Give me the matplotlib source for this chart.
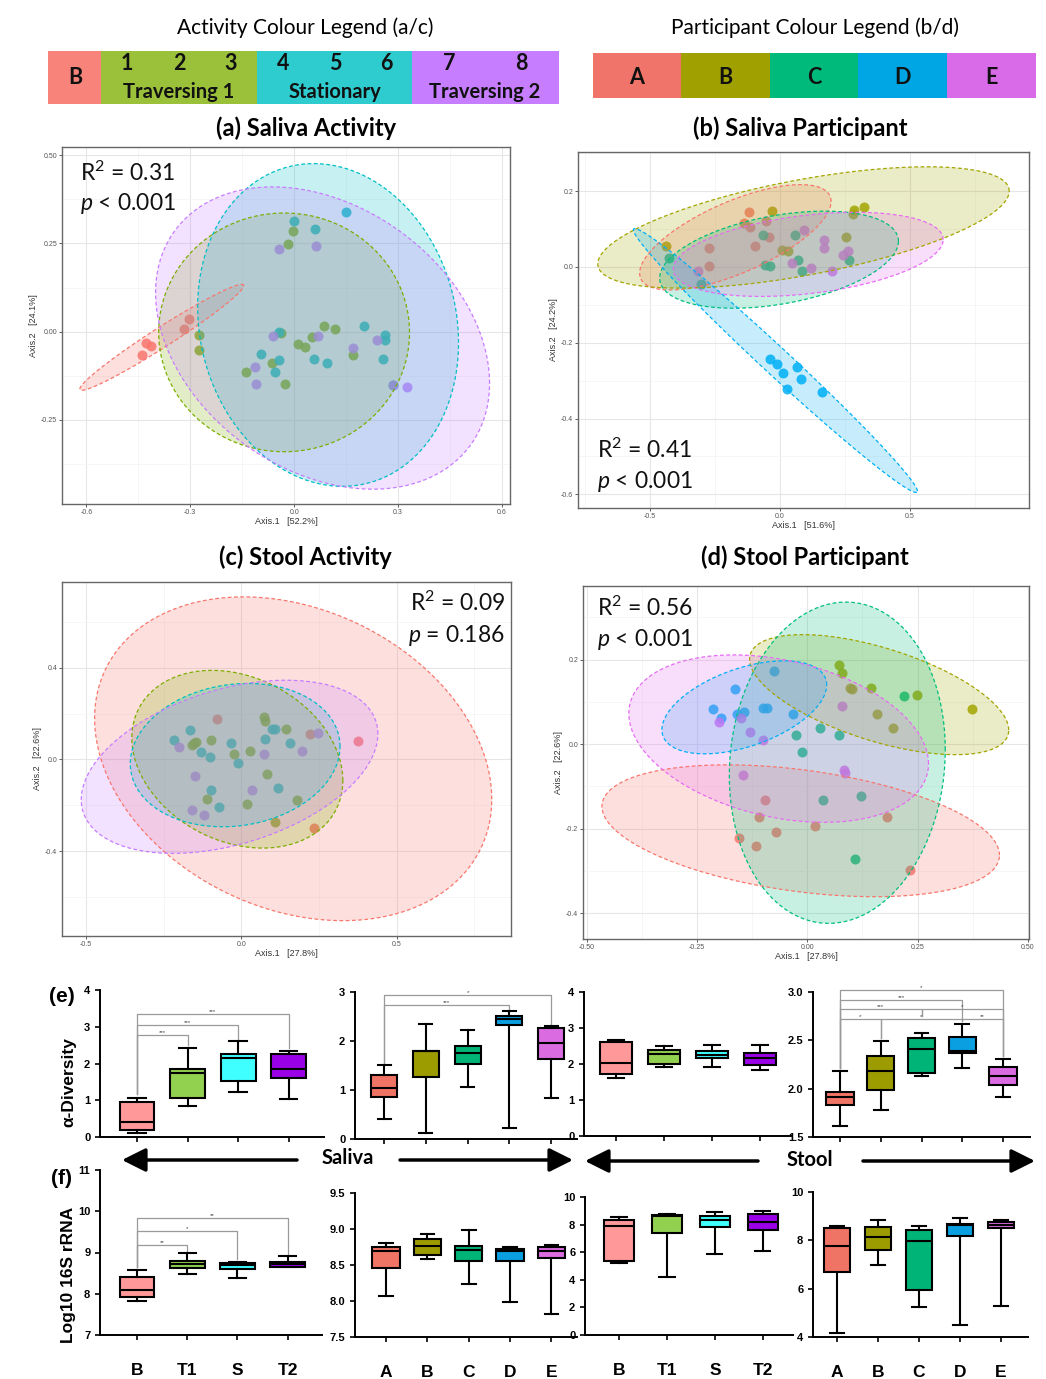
import numpy as np
import matplotlib
matplotlib.use("Agg")
import matplotlib.pyplot as plt
from matplotlib.patches import Rectangle
from matplotlib.ticker import MultipleLocator, FormatStrFormatter

plt.rcParams['font.family'] = ['Liberation Sans', 'DejaVu Sans']
plt.rcParams['mathtext.fontset'] = 'custom'
plt.rcParams['mathtext.rm'] = 'Lato'
plt.rcParams['mathtext.it'] = 'Lato:italic'
plt.rcParams['mathtext.bf'] = 'Lato:bold'

# ---------------- data ----------------
act_labels = ['B', 'T1', 'S', 'T2']
part_labels = ['A', 'B', 'C', 'D', 'E']
act_colors = ['#F8766D', '#7CAE00', '#00BFC4', '#C77CFF']
part_colors = ['#F8766D', '#A3A500', '#00BF7D', '#00B0F6', '#E76BF3']
act_legend_colors = ['#F8837A', '#9BC03A', '#2FCCCF', '#C77DFF']
part_legend_colors = ['#F0746A', '#A0A000', '#00BA7C', '#00A6E4', '#D96BE8']
act_box_colors = ['#FF9999', '#92D050', '#40FFFF', '#9900E6']
part_box_colors = ['#F07466', '#9C9C00', '#00B377', '#0A9FE0', '#DA6BE0']

# (a) saliva activity PCoA
a_x_B = [-0.439, -0.427, -0.413, -0.319, -0.304]
a_y_B = [-0.066, -0.031, -0.040, 0.007, 0.036]
a_x_T1 = [-0.276, -0.276, -0.138, -0.064, -0.027, -0.039, 0.010, 0.031, 0.052, 0.085, 0.117, 0.171, -0.018, -0.003]
a_y_T1 = [-0.009, -0.052, -0.114, -0.088, -0.149, -0.005, -0.035, -0.042, -0.016, 0.016, 0.009, -0.065, 0.247, 0.285]
a_x_S = [0.000, 0.060, 0.149, -0.045, -0.096, -0.045, -0.054, 0.057, 0.095, 0.203, 0.262, 0.262, 0.257, 0.286]
a_y_S = [0.314, 0.290, 0.340, -0.002, -0.062, -0.081, -0.114, -0.077, -0.090, 0.016, -0.008, -0.024, -0.077, -0.151]
a_x_T2 = [-0.043, 0.062, -0.062, 0.069, -0.114, -0.111, 0.171, 0.238, 0.325, 0.286]
a_y_T2 = [0.234, 0.242, -0.012, -0.012, -0.099, -0.149, -0.046, -0.024, -0.157, -0.151]
# ellipses: centre x, centre y, half extent x, half extent y, correlation
a_ellipses = [(-0.382, -0.016, 0.2365, 0.150, 0.975),
              (-0.029, -0.002, 0.362, 0.338, 0.0),
              (0.098, 0.019, 0.3765, 0.457, -0.11),
              (0.082, -0.018, 0.482, 0.428, -0.30)]

# (b) saliva participant PCoA
b_x_A = [-0.118, -0.138, -0.115, -0.055, -0.042, -0.096, -0.274, -0.274]
b_y_A = [0.146, 0.115, 0.104, 0.120, 0.080, 0.056, 0.049, 0.003]
b_x_B = [-0.029, -0.438, 0.010, 0.032, 0.256, 0.285, 0.282, 0.323]
b_y_B = [0.148, 0.054, 0.045, 0.043, 0.078, 0.149, 0.140, 0.159]
b_x_C = [-0.064, 0.058, -0.426, -0.303, -0.056, -0.038, 0.071, 0.086, 0.267]
b_y_C = [0.085, 0.085, 0.023, -0.046, 0.004, 0.003, 0.017, -0.010, 0.017]
b_x_D = [-0.036, -0.009, 0.013, 0.067, 0.083, 0.026, 0.164]
b_y_D = [-0.243, -0.256, -0.281, -0.263, -0.296, -0.323, -0.331]
b_x_E = [0.094, 0.169, 0.169, 0.263, 0.241, 0.046, 0.118, 0.200, -0.315]
b_y_E = [0.096, 0.070, 0.051, 0.042, 0.032, 0.011, -0.003, -0.011, -0.011]
b_ellipses = [(-0.171, 0.078, 0.368, 0.139, 0.68),
              (0.091, 0.104, 0.791, 0.160, 0.60),
              (-0.003, 0.019, 0.459, 0.128, 0.38),
              (-0.017, -0.247, 0.546, 0.348, -0.99),
              (0.109, 0.033, 0.519, 0.111, 0.35)]

# (c) stool activity PCoA
c_x_B = [-0.077, 0.220, 0.376, 0.233]
c_y_B = [0.175, 0.113, 0.081, -0.298]
c_x_T1 = [-0.153, -0.159, -0.145, -0.099, -0.025, 0.027, 0.072, 0.077, 0.143, 0.084, -0.110, 0.017, 0.178, 0.108]
c_y_T1 = [0.071, 0.062, 0.077, 0.086, 0.022, 0.039, 0.186, 0.167, 0.132, -0.064, -0.172, -0.193, -0.175, -0.272]
c_x_S = [-0.216, -0.166, -0.131, -0.102, -0.033, -0.012, 0.076, 0.100, 0.108, 0.156, -0.097, -0.073, 0.119]
c_y_S = [0.083, 0.129, 0.031, 0.009, 0.071, -0.017, 0.090, 0.132, 0.132, 0.071, -0.134, -0.209, -0.124]
c_x_T2 = [-0.200, -0.148, 0.195, 0.248, 0.072, 0.033, -0.158, -0.119]
c_y_T2 = [0.055, -0.073, 0.038, 0.116, 0.023, -0.134, -0.221, -0.243]
c_ellipses = [(0.167, 0.003, 0.640, 0.707, -0.25),
              (-0.013, 0.001, 0.340, 0.388, -0.24),
              (-0.020, 0.019, 0.338, 0.313, 0.12),
              (-0.038, -0.032, 0.478, 0.378, 0.38)]

# (d) stool participant PCoA
d_x_A = [-0.096, -0.109, -0.156, -0.117, -0.072, 0.018, 0.180, 0.232]
d_y_A = [-0.132, -0.172, -0.221, -0.240, -0.209, -0.194, -0.173, -0.298]
d_x_B = [0.072, 0.078, 0.097, 0.102, 0.144, 0.157, 0.195, 0.249, 0.374]
d_y_B = [0.187, 0.168, 0.132, 0.131, 0.133, 0.071, 0.038, 0.117, 0.082]
d_x_C = [0.220, -0.026, 0.029, 0.072, -0.011, 0.035, 0.121, 0.108]
d_y_C = [0.114, 0.022, 0.039, 0.022, -0.019, -0.133, -0.123, -0.271]
d_x_D = [-0.076, -0.165, -0.214, -0.195, -0.160, -0.143, -0.100, -0.092, -0.032]
d_y_D = [0.173, 0.130, 0.083, 0.062, 0.071, 0.076, 0.086, 0.086, 0.071]
d_x_E = [-0.200, -0.151, -0.130, -0.100, 0.078, -0.146, 0.084, 0.085]
d_y_E = [0.052, 0.061, 0.029, 0.009, 0.091, -0.072, -0.061, -0.068]
d_ellipses = [(-0.015, -0.205, 0.451, 0.156, -0.37),
              (0.163, 0.117, 0.294, 0.142, -0.59),
              (0.068, -0.044, 0.245, 0.380, 0.08),
              (-0.143, 0.087, 0.187, 0.110, 0.48),
              (-0.065, 0.013, 0.340, 0.198, -0.30)]

# box plots: (whisker low, Q1, median, Q3, whisker high)
e1_stats = [(0.12, 0.18, 0.41, 0.94, 1.07), (0.84, 1.06, 1.75, 1.86, 2.43),
            (1.23, 1.53, 2.15, 2.26, 2.61), (1.03, 1.60, 1.85, 2.26, 2.35)]
e2_stats = [(0.40, 0.86, 1.04, 1.31, 1.51), (0.12, 1.27, 1.79, 1.80, 2.35),
            (1.07, 1.53, 1.75, 1.89, 2.22), (0.22, 2.33, 2.45, 2.52, 2.62),
            (0.83, 1.64, 1.96, 2.26, 2.31)]
e3_stats = [(1.62, 1.71, 2.03, 2.61, 2.68), (1.92, 2.00, 2.27, 2.39, 2.49),
            (1.93, 2.18, 2.24, 2.36, 2.54), (1.82, 1.96, 2.17, 2.30, 2.54)]
e4_stats = [(1.61, 1.83, 1.91, 1.97, 2.18), (1.78, 1.99, 2.18, 2.34, 2.49),
            (2.13, 2.16, 2.41, 2.52, 2.58), (2.21, 2.37, 2.39, 2.53, 2.67),
            (1.91, 2.04, 2.13, 2.22, 2.31)]
f1_stats = [(7.82, 7.93, 8.09, 8.40, 8.58), (8.48, 8.62, 8.72, 8.79, 8.98),
            (8.37, 8.61, 8.70, 8.74, 8.78), (8.64, 8.66, 8.71, 8.76, 8.92)]
f2_stats = [(8.07, 8.46, 8.69, 8.75, 8.81), (8.58, 8.64, 8.77, 8.86, 8.93),
            (8.24, 8.55, 8.71, 8.77, 8.99), (7.99, 8.55, 8.69, 8.72, 8.75),
            (7.82, 8.60, 8.69, 8.75, 8.78)]
f3_stats = [(5.25, 5.35, 7.88, 8.36, 8.55), (4.17, 7.40, 8.60, 8.67, 8.80),
            (5.90, 7.83, 8.36, 8.60, 8.92), (6.10, 7.64, 8.19, 8.80, 8.99)]
f4_stats = [(4.17, 6.69, 7.75, 8.51, 8.61), (6.98, 7.60, 8.14, 8.54, 8.86),
            (5.24, 5.96, 7.96, 8.44, 8.61), (4.51, 8.17, 8.62, 8.69, 8.92),
            (5.30, 8.52, 8.63, 8.74, 8.86)]

# significance brackets: group i, group j, level, stars, start height i, end height j
e1_brackets = [(1, 2, 2.77, '***', 1.16, 2.50), (1, 3, 3.05, '***', 1.16, 2.68),
               (1, 4, 3.34, '***', 1.16, 2.42)]
e2_brackets = [(1, 4, 2.73, '***', 1.55, 2.62), (1, 5, 2.93, '*', 1.55, 2.31)]
e4_brackets = [(1, 2, 2.72, '*', 2.21, 2.52), (2, 4, 2.72, '*', 2.52, 2.70),
               (4, 5, 2.72, '**', 2.70, 2.34), (1, 3, 2.82, '***', 2.21, 2.75),
               (3, 5, 2.82, '*', 2.75, 2.34), (1, 4, 2.92, '***', 2.21, 2.72),
               (1, 5, 3.02, '*', 2.21, 2.34)]
f1_brackets = [(1, 2, 9.18, '**', 8.64, 9.02), (1, 3, 9.53, '*', 8.64, 8.84),
               (1, 4, 9.84, '**', 8.64, 8.96)]

# ---------------- figure ----------------
W, H = 1046, 1379
fig = plt.figure(figsize=(W / 100, H / 100), dpi=100)


def px_axes(x0, y0, x1, y1):
    return fig.add_axes([x0 / W, 1 - y1 / H, (x1 - x0) / W, (y1 - y0) / H])


over = px_axes(0, 0, W, H)
over.set_xlim(0, W)
over.set_ylim(H, 0)
over.axis('off')
over.set_zorder(10)

# colour legends
over.text(305, 28, 'Activity Colour Legend (a/c)', ha='center', va='center', family='Lato', fontsize=15)
over.text(815, 28, 'Participant Colour Legend (b/d)', ha='center', va='center', family='Lato', fontsize=15)
act_edges = [48, 101, 257, 412, 559]
for k, c in enumerate(act_legend_colors):
    over.add_patch(Rectangle((act_edges[k], 51), act_edges[k + 1] - act_edges[k], 53, color=c, lw=0))
part_edges = [593, 681, 770, 858, 947, 1036]
for k, c in enumerate(part_legend_colors):
    over.add_patch(Rectangle((part_edges[k], 53), part_edges[k + 1] - part_edges[k], 45, color=c, lw=0))
    over.text((part_edges[k] + part_edges[k + 1]) / 2, 77, part_labels[k], ha='center', va='center',
              family='Lato', fontweight='bold', fontsize=15.5, color='#111111')
lfont = dict(ha='center', va='center', family='Lato', fontweight='bold', color='#111111')
over.text(75, 78, 'B', fontsize=15.5, **lfont)
for xx, s in zip([127, 179, 231, 283, 335, 386, 449, 521], '12345678'):
    over.text(xx, 64, s, fontsize=15.5, **lfont)
over.text(179, 92, 'Traversing 1', fontsize=14.5, **lfont)
over.text(335, 92, 'Stationary', fontsize=14.5, **lfont)
over.text(485, 92, 'Traversing 2', fontsize=14.5, **lfont)

# panel titles
tfont = dict(ha='center', va='center', family='Lato', fontweight='bold', fontsize=17)
over.text(306, 128, '(a) Saliva Activity', **tfont)
over.text(800, 128, '(b) Saliva Participant', **tfont)
over.text(305, 557, '(c) Stool Activity', **tfont)
over.text(805, 557, '(d) Stool Participant', **tfont)


def pcoa_panel(ax, xs, ys, colors, ellipses, xlim, ylim, xstep, ystep, xfmt, yfmt, xlab, ylab):
    for gx, gy, c in zip(xs, ys, colors):
        ax.scatter(gx, gy, s=52, color=c, alpha=0.85, linewidths=0, zorder=2)
    t = np.linspace(0, 2 * np.pi, 300)
    for (cx, cy, sx, sy, r), c in zip(ellipses, colors):
        ex = cx + sx * np.cos(t)
        ey = cy + sy * (r * np.cos(t) + np.sqrt(1 - r * r) * np.sin(t))
        ax.fill(ex, ey, color=c, alpha=0.22, lw=0, zorder=3)
        ax.plot(ex, ey, color=c, lw=0.9, ls=(0, (3, 2)), zorder=4)
    ax.set_xlim(*xlim)
    ax.set_ylim(*ylim)
    ax.xaxis.set_major_locator(MultipleLocator(xstep))
    ax.xaxis.set_minor_locator(MultipleLocator(xstep / 2))
    ax.yaxis.set_major_locator(MultipleLocator(ystep))
    ax.yaxis.set_minor_locator(MultipleLocator(ystep / 2))
    ax.xaxis.set_major_formatter(FormatStrFormatter(xfmt))
    ax.yaxis.set_major_formatter(FormatStrFormatter(yfmt))
    ax.set_axisbelow(True)
    ax.grid(which='minor', color='#F3F3F3', lw=0.5)
    ax.grid(which='major', color='#E6E6E6', lw=0.8)
    ax.tick_params(which='major', length=2, width=0.6, color='#444444', labelsize=5,
                   labelcolor='#555555', pad=1.5)
    ax.tick_params(which='minor', length=0)
    for s in ax.spines.values():
        s.set_color('#666666')
        s.set_linewidth(1.0)
    ax.set_xlabel(xlab, fontsize=6.5, color='#333333', labelpad=1)
    ax.set_ylabel(ylab, fontsize=6.5, color='#333333', labelpad=2)


ax_a = px_axes(62, 147, 510, 504)
pcoa_panel(ax_a, [a_x_B, a_x_T1, a_x_S, a_x_T2], [a_y_B, a_y_T1, a_y_S, a_y_T2], act_colors, a_ellipses,
           (-0.67, 0.623), (-0.488, 0.523), 0.3, 0.25, '%.1f', '%.2f',
           'Axis.1   [52.2%]', 'Axis.2   [24.1%]')
ax_b = px_axes(578, 152, 1029, 508)
pcoa_panel(ax_b, [b_x_A, b_x_B, b_x_C, b_x_D, b_x_E], [b_y_A, b_y_B, b_y_C, b_y_D, b_y_E], part_colors,
           b_ellipses, (-0.776, 0.958), (-0.636, 0.303), 0.5, 0.2, '%.1f', '%.1f',
           'Axis.1   [51.6%]', 'Axis.2   [24.2%]')
ax_c = px_axes(62, 582, 511, 936)
pcoa_panel(ax_c, [c_x_B, c_x_T1, c_x_S, c_x_T2], [c_y_B, c_y_T1, c_y_S, c_y_T2], act_colors, c_ellipses,
           (-0.578, 0.869), (-0.771, 0.775), 0.5, 0.4, '%.1f', '%.1f',
           'Axis.1   [27.8%]', 'Axis.2   [22.6%]')
ax_d = px_axes(583, 586, 1029, 939)
pcoa_panel(ax_d, [d_x_A, d_x_B, d_x_C, d_x_D, d_x_E], [d_y_A, d_y_B, d_y_C, d_y_D, d_y_E], part_colors,
           d_ellipses, (-0.509, 0.503), (-0.461, 0.374), 0.25, 0.2, '%.2f', '%.1f',
           'Axis.1   [27.8%]', 'Axis.2   [22.6%]')

# statistics text
sfont = dict(va='center', family='Lato', fontsize=16.5, color='#111111')
over.text(80, 173, 'R$^2$ = 0.31', ha='left', **sfont)
over.text(80, 204, '$p$ < 0.001', ha='left', **sfont)
over.text(597, 450, 'R$^2$ = 0.41', ha='left', **sfont)
over.text(597, 482, '$p$ < 0.001', ha='left', **sfont)
over.text(505, 603, 'R$^2$ = 0.09', ha='right', **sfont)
over.text(505, 635, '$p$ = 0.186', ha='right', **sfont)
over.text(597, 608, 'R$^2$ = 0.56', ha='left', **sfont)
over.text(597, 640, '$p$ < 0.001', ha='left', **sfont)


def box_panel(ax, stats, colors, xlim, ylim, yticks, yfmt, width, brackets=(), labels=None):
    bstats = [dict(whislo=s[0], q1=s[1], med=s[2], q3=s[3], whishi=s[4]) for s in stats]
    pos = list(range(1, len(stats) + 1))
    line = dict(color='black', lw=1.5)
    bp = ax.bxp(bstats, positions=pos, widths=width, capwidths=width * 0.5, patch_artist=True,
                showfliers=False, manage_ticks=False,
                boxprops=dict(edgecolor='black', lw=1.5), medianprops=line,
                whiskerprops=line, capprops=line)
    for patch, c in zip(bp['boxes'], colors):
        patch.set_facecolor(c)
    for i, j, lev, lab, y0, y1 in brackets:
        ax.plot([i, i, j, j], [y0, lev, lev, y1], color='#9A9A9A', lw=0.9, zorder=1, clip_on=False)
        ax.text((i + j) / 2, lev, lab, ha='center', va='bottom', fontsize=4.5, color='#444444',
                clip_on=False)
    ax.set_xlim(*xlim)
    ax.set_ylim(*ylim)
    ax.set_yticks(yticks)
    ax.set_yticklabels([yfmt % v for v in yticks], fontsize=8, fontweight='bold')
    ax.set_xticks(pos)
    if labels:
        ax.set_xticklabels(labels, fontsize=12.5, fontweight='bold')
        ax.tick_params(axis='x', pad=17)
    else:
        ax.set_xticklabels([])
    ax.tick_params(direction='out', length=3.5, width=1.2, color='black')
    for side in ['top', 'right']:
        ax.spines[side].set_visible(False)
    for side in ['left', 'bottom']:
        ax.spines[side].set_linewidth(1.4)
    ax.patch.set_alpha(0)


ax_e1 = px_axes(100, 990, 324, 1137)
box_panel(ax_e1, e1_stats, act_box_colors, (0.267, 4.70), (0, 4), [0, 1, 2, 3, 4], '%d', 0.69, e1_brackets)
ax_e2 = px_axes(355, 992, 577, 1139)
box_panel(ax_e2, e2_stats, part_box_colors, (0.30, 5.62), (0, 3), [0, 1, 2, 3], '%d', 0.62, e2_brackets)
ax_e3 = px_axes(584, 992, 792, 1136)
box_panel(ax_e3, e3_stats, act_box_colors, (0.333, 4.667), (0, 4), [0, 1, 2, 3, 4], '%d', 0.66)
ax_e4 = px_axes(813, 992, 1030, 1137)
box_panel(ax_e4, e4_stats, part_box_colors, (0.338, 5.66), (1.5, 3.0), [1.5, 2.0, 2.5, 3.0], '%.1f', 0.67,
          e4_brackets)
ax_f1 = px_axes(100, 1170, 322, 1335)
box_panel(ax_f1, f1_stats, act_box_colors, (0.267, 4.68), (7, 11), [7, 8, 9, 10, 11], '%d', 0.69,
          f1_brackets, act_labels)
ax_f2 = px_axes(355, 1193, 577, 1337)
box_panel(ax_f2, f2_stats, part_box_colors, (0.25, 5.62), (7.5, 9.5), [7.5, 8.0, 8.5, 9.0, 9.5], '%.1f', 0.66,
          labels=part_labels)
ax_f3 = px_axes(585, 1197, 793, 1335)
box_panel(ax_f3, f3_stats, act_box_colors, (0.29, 4.63), (0, 10), [0, 2, 4, 6, 8, 10], '%d', 0.63,
          labels=act_labels)
ax_f4 = px_axes(813, 1192, 1028, 1337)
box_panel(ax_f4, f4_stats, part_box_colors, (0.415, 5.66), (4, 10), [4, 6, 8, 10], '%d', 0.65,
          labels=part_labels)

# row labels and arrows
over.text(62, 997, '(e)', ha='center', va='center', fontsize=15, fontweight='bold')
over.text(62, 1178, '(f)', ha='center', va='center', fontsize=15, fontweight='bold')
over.text(69, 1082, 'α-Diversity', ha='center', va='center', rotation=90, fontsize=12.5, fontweight='bold')
over.text(69, 1275, 'Log10 16S rRNA', ha='center', va='center', rotation=90, fontsize=12.5, fontweight='bold')
arrow = dict(arrowstyle='-|>,head_length=0.8,head_width=0.4', lw=2.5, color='black',
             shrinkA=0, shrinkB=0, mutation_scale=18)
over.annotate('', xy=(122, 1160), xytext=(297, 1160), arrowprops=arrow)
over.annotate('', xy=(573, 1160), xytext=(400, 1160), arrowprops=arrow)
over.annotate('', xy=(585, 1161), xytext=(758, 1161), arrowprops=arrow)
over.annotate('', xy=(1035, 1161), xytext=(863, 1161), arrowprops=arrow)
over.text(348, 1158, 'Saliva', ha='center', va='center', family='Lato', fontweight='bold', fontsize=14.5)
over.text(810, 1160, 'Stool', ha='center', va='center', family='Lato', fontweight='bold', fontsize=14.5)

fig.savefig('out.png', dpi=100)
